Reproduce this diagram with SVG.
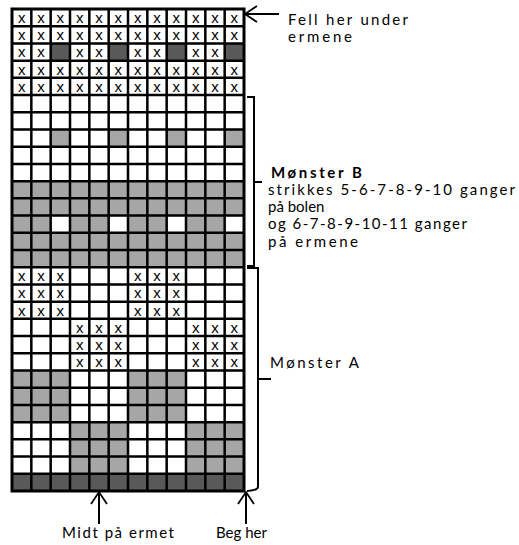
<svg xmlns="http://www.w3.org/2000/svg" width="519" height="545" viewBox="0 0 519 545">
<style>
.lbl{font-family:Lato,"Liberation Sans",sans-serif;font-size:15px;fill:#000}
.b{font-weight:bold}
.x{font-family:"Liberation Sans",Arial,sans-serif;font-size:15px;fill:#000;text-anchor:middle}
.g{fill:#a6a6a6}
.d{fill:#595959}
.ln{fill:none;stroke:#000;stroke-width:2.5}
.cn{fill:none;stroke:#000;stroke-width:2}
</style>
<defs>
<marker id="open" markerUnits="userSpaceOnUse" markerWidth="16" markerHeight="20" refX="13" refY="9" orient="auto">
<path d="M1,1 L13,9 L1,17" fill="none" stroke="#000" stroke-width="1.8"/>
</marker>
</defs>
<rect width="519" height="545" fill="#fff"/>
<g id="chart">
<rect x="12" y="9" width="232" height="482" fill="#fff"/>
<rect class="d" x="50.67" y="43.43" width="19.33" height="17.21"/>
<rect class="d" x="108.67" y="43.43" width="19.33" height="17.21"/>
<rect class="d" x="166.67" y="43.43" width="19.33" height="17.21"/>
<rect class="d" x="224.67" y="43.43" width="19.33" height="17.21"/>
<rect class="d" x="12" y="473.79" width="232" height="17.21"/>
<rect class="g" x="50.67" y="129.5" width="19.33" height="17.21"/>
<rect class="g" x="108.67" y="129.5" width="19.33" height="17.21"/>
<rect class="g" x="166.67" y="129.5" width="19.33" height="17.21"/>
<rect class="g" x="224.67" y="129.5" width="19.33" height="17.21"/>
<rect class="g" x="12" y="181.14" width="232" height="86.07"/>
<rect fill="#fff" x="50.67" y="215.57" width="19.33" height="17.21"/>
<rect fill="#fff" x="108.67" y="215.57" width="19.33" height="17.21"/>
<rect fill="#fff" x="166.67" y="215.57" width="19.33" height="17.21"/>
<rect fill="#fff" x="224.67" y="215.57" width="19.33" height="17.21"/>
<rect class="g" x="12" y="370.5" width="58" height="51.64"/>
<rect class="g" x="128" y="370.5" width="58" height="51.64"/>
<rect class="g" x="70" y="422.14" width="58" height="51.64"/>
<rect class="g" x="186" y="422.14" width="58" height="51.64"/>
<path class="ln" d="M31.33,9V491M50.67,9V491M70,9V491M89.33,9V491M108.67,9V491M128,9V491M147.33,9V491M166.67,9V491M186,9V491M205.33,9V491M224.67,9V491
M12,26.21H244M12,43.43H244M12,60.64H244M12,77.86H244M12,95.07H244M12,112.29H244M12,129.5H244M12,146.71H244M12,163.93H244M12,181.14H244M12,198.36H244M12,215.57H244M12,232.79H244M12,250H244M12,267.21H244M12,284.43H244M12,301.64H244M12,318.86H244M12,336.07H244M12,353.29H244M12,370.5H244M12,387.71H244M12,404.93H244M12,422.14H244M12,439.36H244M12,456.57H244M12,473.79H244"/>
<rect x="12" y="9" width="232" height="482" fill="none" stroke="#000" stroke-width="3"/>
<text class="x" x="21.67 41 60.33 79.67 99 118.33 137.67 157 176.33 195.67 215 234.33" y="23">xxxxxxxxxxxx</text>
<text class="x" x="21.67 41 60.33 79.67 99 118.33 137.67 157 176.33 195.67 215 234.33" y="40.21">xxxxxxxxxxxx</text>
<text class="x" x="21.67 41 79.67 99 137.67 157 195.67 215" y="57.43">xxxxxxxx</text>
<text class="x" x="21.67 41 60.33 79.67 99 118.33 137.67 157 176.33 195.67 215 234.33" y="74.64">xxxxxxxxxxxx</text>
<text class="x" x="21.67 41 60.33 79.67 99 118.33 137.67 157 176.33 195.67 215 234.33" y="91.86">xxxxxxxxxxxx</text>
<text class="x" x="21.67 41 60.33 137.67 157 176.33" y="281.21">xxxxxx</text>
<text class="x" x="21.67 41 60.33 137.67 157 176.33" y="298.43">xxxxxx</text>
<text class="x" x="21.67 41 60.33 137.67 157 176.33" y="315.64">xxxxxx</text>
<text class="x" x="79.67 99 118.33 195.67 215 234.33" y="332.86">xxxxxx</text>
<text class="x" x="79.67 99 118.33 195.67 215 234.33" y="350.07">xxxxxx</text>
<text class="x" x="79.67 99 118.33 195.67 215 234.33" y="367.29">xxxxxx</text>
</g>
<g id="label-fell">
<text class="lbl" x="288" y="25" textLength="120" lengthAdjust="spacing">Fell her under</text>
<text class="lbl" x="288" y="42" textLength="64" lengthAdjust="spacing">ermene</text>
</g>
<g id="label-b">
<text class="lbl b" x="271" y="178" textLength="91" lengthAdjust="spacing">Mønster B</text>
<text class="lbl" x="268" y="195" textLength="247" lengthAdjust="spacing">strikkes 5-6-7-8-9-10 ganger</text>
<text class="lbl" x="268" y="212">på bolen</text>
<text class="lbl" x="268" y="229" textLength="199" lengthAdjust="spacing">og 6-7-8-9-10-11 ganger</text>
<text class="lbl" x="268" y="247" textLength="90" lengthAdjust="spacing">på ermene</text>
</g>
<g id="label-a">
<text class="lbl" x="270" y="368" textLength="89" lengthAdjust="spacing">Mønster A</text>
</g>
<g id="label-midt">
<text class="lbl" x="62" y="538" textLength="112" lengthAdjust="spacing">Midt på ermet</text>
</g>
<g id="label-beg">
<text class="lbl" x="216" y="538">Beg her</text>
</g>
<g id="connectors">
<line class="cn" x1="279" y1="14" x2="245" y2="14" marker-end="url(#open)"/>
<line class="cn" x1="99" y1="524" x2="99" y2="492" marker-end="url(#open)"/>
<line class="cn" x1="246" y1="524" x2="246" y2="492" marker-end="url(#open)"/>
<path class="cn" d="M247,97H254V182H262M254,182V266H247"/>
<path class="cn" d="M247,268H258V379H271M258,379V487Q258,490 247,491"/>
</g>
</svg>
